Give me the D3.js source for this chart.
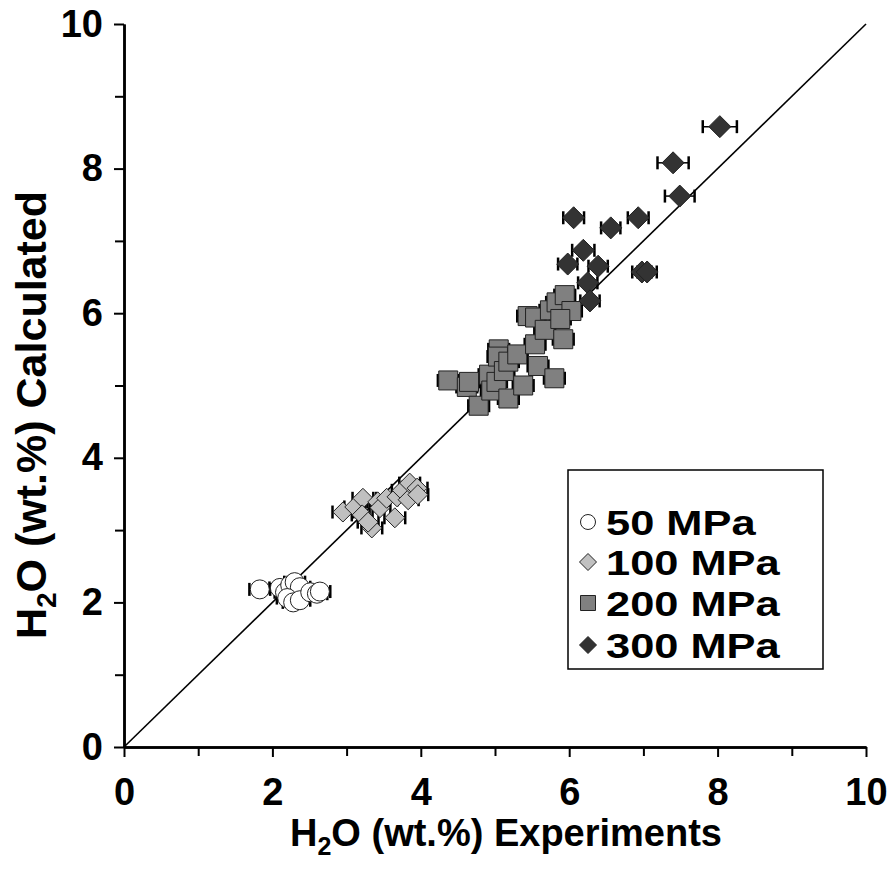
<!DOCTYPE html>
<html>
<head>
<meta charset="utf-8">
<script src="https://cdn.jsdelivr.net/npm/d3@7"></script>
<style>
  html, body { margin: 0; padding: 0; background: #fff; }
  svg { display: block; }
  text { font-family: "Liberation Sans", Arial, sans-serif; font-weight: bold; }
</style>
</head>
<body>
<svg id="chart" width="894" height="872"></svg>
<script>
// H2O measured in experiments vs. calculated, grouped by pressure
const ticksMajor = [0, 2, 4, 6, 8, 10];
const ticksMinor = [1, 3, 5, 7, 9];

const p50x = [1.83, 2.10, 2.17, 2.24, 2.30, 2.37, 2.20, 2.28, 2.37, 2.51, 2.60, 2.64];
const p50y = [2.18, 2.20, 2.14, 2.24, 2.28, 2.21, 2.06, 2.00, 2.03, 2.14, 2.12, 2.15];
const p50e = [0.14, 0.14, 0.14, 0.14, 0.14, 0.14, 0.14, 0.14, 0.14, 0.14, 0.14, 0.14];

const p100x = [2.95, 3.11, 3.22, 3.21, 3.34, 3.29, 3.42, 3.45, 3.54, 3.65, 3.68, 3.75, 3.83, 3.85, 3.95, 3.96];
const p100y = [3.25, 3.32, 3.44, 3.21, 3.03, 3.11, 3.39, 3.31, 3.44, 3.17, 3.46, 3.55, 3.42, 3.65, 3.58, 3.49];
const p100e = [0.14, 0.14, 0.14, 0.14, 0.14, 0.14, 0.14, 0.14, 0.14, 0.14, 0.14, 0.14, 0.14, 0.14, 0.14, 0.14];

const p200x = [4.37, 4.62, 4.65, 4.78, 4.92, 4.95, 5.02, 5.05, 5.04, 5.12, 5.18, 5.30, 5.18, 5.38, 5.54, 5.58,
               5.80, 5.44, 5.54, 5.67, 5.74, 5.83, 5.94, 6.03, 5.88, 5.92];
const p200y = [5.07, 4.98, 5.05, 4.72, 5.15, 4.93, 5.05, 5.50, 5.40, 5.20, 5.33, 5.43, 4.82, 5.00, 5.57, 5.27,
               5.10, 5.96, 5.94, 5.77, 6.04, 6.15, 6.25, 6.03, 5.92, 5.64];
const p200e = [0.14, 0.14, 0.14, 0.14, 0.14, 0.14, 0.14, 0.14, 0.14, 0.14, 0.14, 0.14, 0.14, 0.14, 0.14, 0.14,
               0.14, 0.14, 0.14, 0.14, 0.14, 0.14, 0.14, 0.14, 0.14, 0.14];

const p300x = [6.06, 6.56, 6.93, 6.19, 5.98, 6.39, 6.25, 6.28, 6.98, 7.05, 7.40, 7.49, 8.03];
const p300y = [7.32, 7.18, 7.32, 6.87, 6.68, 6.65, 6.42, 6.17, 6.57, 6.57, 8.08, 7.62, 8.58];
const p300e = [0.14, 0.13, 0.14, 0.15, 0.13, 0.13, 0.13, 0.13, 0.13, 0.13, 0.21, 0.20, 0.23];

const seriesNames = ["50 MPa", "100 MPa", "200 MPa", "300 MPa"];

const series = [
  { name: seriesNames[0], xs: p50x, ys: p50y, es: p50e, shape: "circle", fill: "#ffffff", size: 9.5 },
  { name: seriesNames[1], xs: p100x, ys: p100y, es: p100e, shape: "diamond", fill: "#c0c0c0", size: 10 },
  { name: seriesNames[2], xs: p200x, ys: p200y, es: p200e, shape: "square", fill: "#808080", size: 9.5 },
  { name: seriesNames[3], xs: p300x, ys: p300y, es: p300e, shape: "diamond", fill: "#333333", size: 11 }
];

const svg = d3.select("#chart");
const plotL = 124, plotR = 866, plotT = 24, plotB = 747;

const x = d3.scaleLinear().domain([0, 10]).range([plotL, plotR]);
const y = d3.scaleLinear().domain([0, 10]).range([plotB, plotT]);

function markerPath(shape, size) {
  if (shape === "circle") return d3.symbol(d3.symbolCircle, Math.PI * size * size)();
  if (shape === "square") { const s = size * 2; return d3.symbol(d3.symbolSquare, s * s)(); }
  // diamond: half-diagonal = size
  return `M0,${-size}L${size},0L0,${size}L${-size},0Z`;
}

// 1:1 reference line
svg.append("line")
  .attr("x1", x(0)).attr("y1", y(0))
  .attr("x2", x(10)).attr("y2", y(10))
  .attr("stroke", "#000").attr("stroke-width", 1.6);

// error bars (drawn under markers)
const gErr = svg.append("g");
series.forEach(s => {
  s.xs.forEach((v, i) => {
    const cy = y(s.ys[i]);
    const x0 = x(v - s.es[i]), x1 = x(v + s.es[i]);
    gErr.append("line").attr("x1", x0).attr("x2", x1).attr("y1", cy).attr("y2", cy)
      .attr("stroke", "#000").attr("stroke-width", 1.5);
    [x0, x1].forEach(cx => {
      gErr.append("line").attr("x1", cx).attr("x2", cx).attr("y1", cy - 6.5).attr("y2", cy + 6.5)
        .attr("stroke", "#000").attr("stroke-width", 2.5);
    });
  });
});

// markers
series.forEach(s => {
  svg.append("g").selectAll("path")
    .data(s.xs.map((v, i) => [v, s.ys[i]]))
    .join("path")
    .attr("d", markerPath(s.shape, s.size))
    .attr("transform", d => `translate(${x(d[0])},${y(d[1])})`)
    .attr("fill", s.fill)
    .attr("stroke", "#222")
    .attr("stroke-width", 1);
});

// axes
const fontSize = 38;
const gx = svg.append("g").attr("transform", `translate(0,${plotB})`);
gx.call(d3.axisBottom(x).tickValues(ticksMajor).tickSize(10).tickSizeOuter(0).tickPadding(21).tickFormat(d3.format("d")));
const gxm = svg.append("g").attr("transform", `translate(0,${plotB})`);
gxm.call(d3.axisBottom(x).tickValues(ticksMinor).tickSize(9).tickSizeOuter(0).tickFormat(""));

const gy = svg.append("g").attr("transform", `translate(${plotL},0)`);
gy.call(d3.axisLeft(y).tickValues(ticksMajor).tickSize(10).tickSizeOuter(0).tickPadding(11).tickFormat(d3.format("d")));
const gym = svg.append("g").attr("transform", `translate(${plotL},0)`);
gym.call(d3.axisLeft(y).tickValues(ticksMinor).tickSize(9).tickSizeOuter(0).tickFormat(""));

[gx, gxm, gy, gym].forEach(g => {
  g.selectAll(".domain").attr("stroke", "#000").attr("stroke-width", 2.5);
  g.selectAll(".tick line").attr("stroke", "#000").attr("stroke-width", 2);
  g.selectAll(".tick text").attr("font-size", fontSize).attr("font-family", "'Liberation Sans', Arial, sans-serif")
    .attr("font-weight", "bold").attr("fill", "#000");
});

// axis titles
const xt = svg.append("text")
  .attr("x", (plotL + plotR) / 2 + 11).attr("y", 846)
  .attr("text-anchor", "middle").attr("font-size", fontSize);
xt.append("tspan").text("H");
xt.append("tspan").text("2").attr("font-size", 25).attr("dy", 9);
xt.append("tspan").text("O (wt.%) Experiments").attr("dy", -9);

const yt = svg.append("text")
  .attr("transform", `translate(46,415) rotate(-90)`)
  .attr("text-anchor", "middle").attr("font-size", 43);
yt.append("tspan").text("H");
yt.append("tspan").text("2").attr("font-size", 28).attr("dy", 10);
yt.append("tspan").text("O (wt.%) Calculated").attr("dy", -10);

// legend: wide bold labels, stretched horizontally
const lg = svg.append("g");
lg.append("rect").attr("x", 568).attr("y", 470).attr("width", 255).attr("height", 199)
  .attr("fill", "#fff").attr("stroke", "#000").attr("stroke-width", 1.5);
const legendSize = { circle: 7.5, square: 7.5, diamond: 8.5 };
const legendY = [522, 562, 603, 645];
series.forEach((s, i) => {
  const cy = legendY[i];
  lg.append("path").attr("d", markerPath(s.shape, legendSize[s.shape]))
    .attr("transform", `translate(588,${cy})`)
    .attr("fill", s.fill).attr("stroke", "#222").attr("stroke-width", 1);
  const t = lg.append("text").attr("x", 606).attr("y", cy).attr("dy", "0.36em")
    .attr("font-size", 35).text(s.name);
  const w = t.node().getComputedTextLength();
  t.attr("textLength", w * 1.24).attr("lengthAdjust", "spacingAndGlyphs");
});
</script>
</body>
</html>
